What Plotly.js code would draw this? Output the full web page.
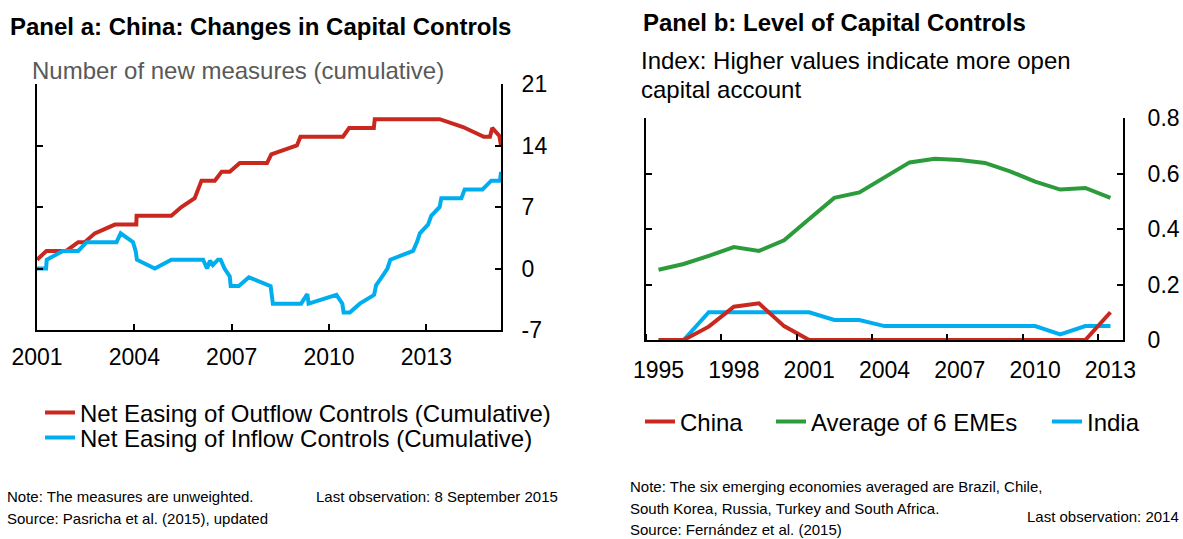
<!DOCTYPE html>
<html>
<head>
<meta charset="utf-8">
<script src="https://cdn.plot.ly/plotly-3.0.1.min.js"></script>
<style>
  html, body { margin: 0; padding: 0; background: #ffffff; }
  #chart { width: 1183px; height: 539px; }
</style>
</head>
<body>
<div id="chart"></div>
<script>
// ---------- Panel a data (decimal years, cumulative number of measures) ----------
const outflowDates = [2001.0, 2001.29, 2001.9, 2002.27, 2002.47, 2002.78, 2003.4, 2004.06, 2004.07, 2005.14, 2005.45, 2005.86, 2006.07, 2006.48, 2006.69, 2006.94, 2007.25, 2008.09, 2008.22, 2009.01, 2009.12, 2010.43, 2010.62, 2011.38, 2011.41, 2013.41, 2014.13, 2014.77, 2014.96, 2015.03, 2015.25, 2015.3];
const outflowValues = [1, 2, 2, 3, 3, 4, 5, 5, 6, 6, 7, 8, 10, 10, 11, 11, 12, 12, 13, 14, 15, 15, 16, 16, 17, 17, 16.1, 15, 15, 16, 15.1, 14];

const inflowDates = [2001.0, 2001.28, 2001.3, 2001.8, 2002.27, 2002.53, 2003.45, 2003.58, 2003.96, 2004.04, 2004.08, 2004.63, 2005.14, 2006.12, 2006.24, 2006.33, 2006.42, 2006.58, 2006.66, 2006.78, 2006.94, 2006.97, 2007.22, 2007.53, 2008.2, 2008.27, 2009.14, 2009.33, 2009.37, 2010.23, 2010.41, 2010.45, 2010.64, 2010.95, 2011.39, 2011.45, 2011.62, 2011.8, 2011.89, 2012.59, 2012.71, 2012.8, 2013.05, 2013.15, 2013.41, 2013.46, 2014.08, 2014.18, 2014.73, 2015.0, 2015.27, 2015.3];
const inflowValues = [0, 0, 1, 2, 2, 3, 3, 4, 3, 2, 1, 0, 1, 1, 0, 0.9, 0.4, 1, 1, 0, -0.9, -2, -2, -1, -2, -4, -4, -2.9, -4, -3, -4, -5, -5, -4, -3, -1.9, -1, 0, 1, 2, 3, 4, 5, 6, 7, 8, 8, 9, 9, 10, 10, 11];

const panelATicks = [2001, 2004, 2007, 2010, 2013];
const panelAYTicks = [-7, 0, 7, 14, 21];

// ---------- Panel b data (index, annual) ----------
const yearsB = [1995, 1996, 1997, 1998, 1999, 2000, 2001, 2002, 2003, 2004, 2005, 2006, 2007, 2008, 2009, 2010, 2011, 2012, 2013];
const chinaValues = [0, 0, 0.048, 0.12, 0.132, 0.05, 0, 0, 0, 0, 0, 0, 0, 0, 0, 0, 0, 0, 0.10];
const emeAverage = [0.253, 0.274, 0.303, 0.335, 0.321, 0.359, 0.436, 0.512, 0.532, 0.587, 0.640, 0.653, 0.649, 0.638, 0.608, 0.571, 0.542, 0.548, 0.512];
const indiaValues = [0, 0, 0.10, 0.10, 0.10, 0.10, 0.10, 0.072, 0.072, 0.05, 0.05, 0.05, 0.05, 0.05, 0.05, 0.05, 0.02, 0.05, 0.05];
const panelBTickLabels = ['1995', '1998', '2001', '2004', '2007', '2010', '2013'];
const panelBYTicks = [0, 0.2, 0.4, 0.6, 0.8];

// ---------- styling ----------
const W = 1183, H = 539;
const FONT = 'Liberation Sans, Arial, Helvetica, sans-serif';
const RED = '#C9281F', BLUE = '#00AEEF', GREEN = '#2C9B3C';
const px = v => v / W;          // horizontal pixel -> paper
const py = v => 1 - v / H;      // vertical pixel -> paper

const labelYears = panelBTickLabels.map(Number);
const boundaryTicks = labelYears.map(t => t - 0.5);

const traces = [
  { x: outflowDates, y: outflowValues, xaxis: 'x', yaxis: 'y', type: 'scatter', mode: 'lines',
    name: 'Net Easing of Outflow Controls (Cumulative)', legend: 'legend', showlegend: true,
    line: { color: RED, width: 4 } },
  { x: inflowDates, y: inflowValues, xaxis: 'x', yaxis: 'y', type: 'scatter', mode: 'lines',
    name: 'Net Easing of Inflow Controls (Cumulative)', legend: 'legend2', showlegend: true,
    line: { color: BLUE, width: 4 } },
  { x: yearsB, y: emeAverage, xaxis: 'x2', yaxis: 'y2', type: 'scatter', mode: 'lines',
    name: 'Average of 6 EMEs', legend: 'legend4', showlegend: true, line: { color: GREEN, width: 4 } },
  { x: yearsB, y: indiaValues, xaxis: 'x2', yaxis: 'y2', type: 'scatter', mode: 'lines',
    name: 'India', legend: 'legend5', showlegend: true, line: { color: BLUE, width: 4 } },
  { x: yearsB, y: chinaValues, xaxis: 'x2', yaxis: 'y2', type: 'scatter', mode: 'lines',
    name: 'China', legend: 'legend3', showlegend: true, line: { color: RED, width: 4 } }
];

const axisCommon = {
  showgrid: false, zeroline: false, showline: true, linecolor: '#000', linewidth: 2,
  ticks: 'inside', ticklen: 6, tickwidth: 2, tickcolor: '#000',
  tickfont: { family: FONT, size: 23, color: '#000' }, fixedrange: true
};

const legendCommon = {
  xanchor: 'left', yanchor: 'middle', orientation: 'h', visible: true,
  bgcolor: 'rgba(0,0,0,0)', borderwidth: 0,
  font: { family: FONT, size: 24, color: '#000' }
};

function note(text, x, y, opts) {
  return Object.assign({
    text: text, xref: 'paper', yref: 'paper', x: px(x), y: py(y),
    xanchor: 'left', yanchor: 'middle', showarrow: false,
    font: { family: FONT, size: 15, color: '#000' }
  }, opts || {});
}

const layout = {
  width: W, height: H, autosize: false, showlegend: true,
  margin: { l: 0, r: 0, t: 0, b: 0, pad: 0 },
  paper_bgcolor: '#fff', plot_bgcolor: '#fff',
  font: { family: FONT, color: '#000' },
  xaxis: Object.assign({}, axisCommon, {
    domain: [px(37), px(501)], anchor: 'y', range: [2001, 2015.3],
    tickmode: 'array', tickvals: panelATicks, ticktext: panelATicks.map(String),
    ticklabelstandoff: 5
  }),
  yaxis: Object.assign({}, axisCommon, {
    domain: [py(330), py(84)], anchor: 'x', side: 'right', mirror: 'ticks',
    range: [-7, 21], tickmode: 'array', tickvals: panelAYTicks, ticktext: panelAYTicks.map(String),
    ticklabelstandoff: 14
  }),
  xaxis2: Object.assign({}, axisCommon, {
    domain: [px(646), px(1123)], anchor: 'y2', range: [1994.5, 2013.5],
    tickmode: 'array', tickvals: labelYears, ticktext: panelBTickLabels,
    ticks: '', ticklabelstandoff: 8,
    minor: { tickmode: 'array', tickvals: boundaryTicks, ticks: 'inside', ticklen: 6,
             tickwidth: 2, tickcolor: '#000', showgrid: false }
  }),
  yaxis2: Object.assign({}, axisCommon, {
    domain: [py(340), py(118)], anchor: 'x2', side: 'right', mirror: 'ticks',
    range: [0, 0.8], tickmode: 'array', tickvals: panelBYTicks,
    ticktext: panelBYTicks.map(String), ticklabelstandoff: 18
  }),
  legend:  Object.assign({}, legendCommon, { x: px(40), y: py(413) }),
  legend2: Object.assign({}, legendCommon, { x: px(40), y: py(438) }),
  legend3: Object.assign({}, legendCommon, { x: px(640), y: py(422) }),
  legend4: Object.assign({}, legendCommon, { x: px(771), y: py(422) }),
  legend5: Object.assign({}, legendCommon, { x: px(1047), y: py(422) }),
  annotations: [
    note('<b>Panel a: China: Changes in Capital Controls</b>', 8, 27, { font: { family: FONT, size: 24, color: '#000' } }),
    note('Number of new measures (cumulative)', 30, 70, { font: { family: FONT, size: 24, color: '#595959' } }),
    note('<b>Panel b: Level of Capital Controls</b>', 641, 22, { font: { family: FONT, size: 24, color: '#000' } }),
    note('Index: Higher values indicate more open', 639, 61, { font: { family: FONT, size: 24, color: '#000' } }),
    note('capital account', 639, 89, { font: { family: FONT, size: 24, color: '#000' } }),
    note('Note: The measures are unweighted.', 5, 496),
    note('Source: Pasricha et al. (2015), updated', 5, 518),
    note('Last observation: 8 September 2015', 314, 496),
    note('Note: The six emerging economies averaged are Brazil, Chile,', 628, 486),
    note('South Korea, Russia, Turkey and South Africa.', 628, 508),
    note('Source: Fernández et al. (2015)', 628, 529),
    note('Last observation: 2014', 1181, 516, { xanchor: 'right' })
  ]
};

Plotly.newPlot('chart', traces, layout, { displayModeBar: false, staticPlot: true });
</script>
</body>
</html>
